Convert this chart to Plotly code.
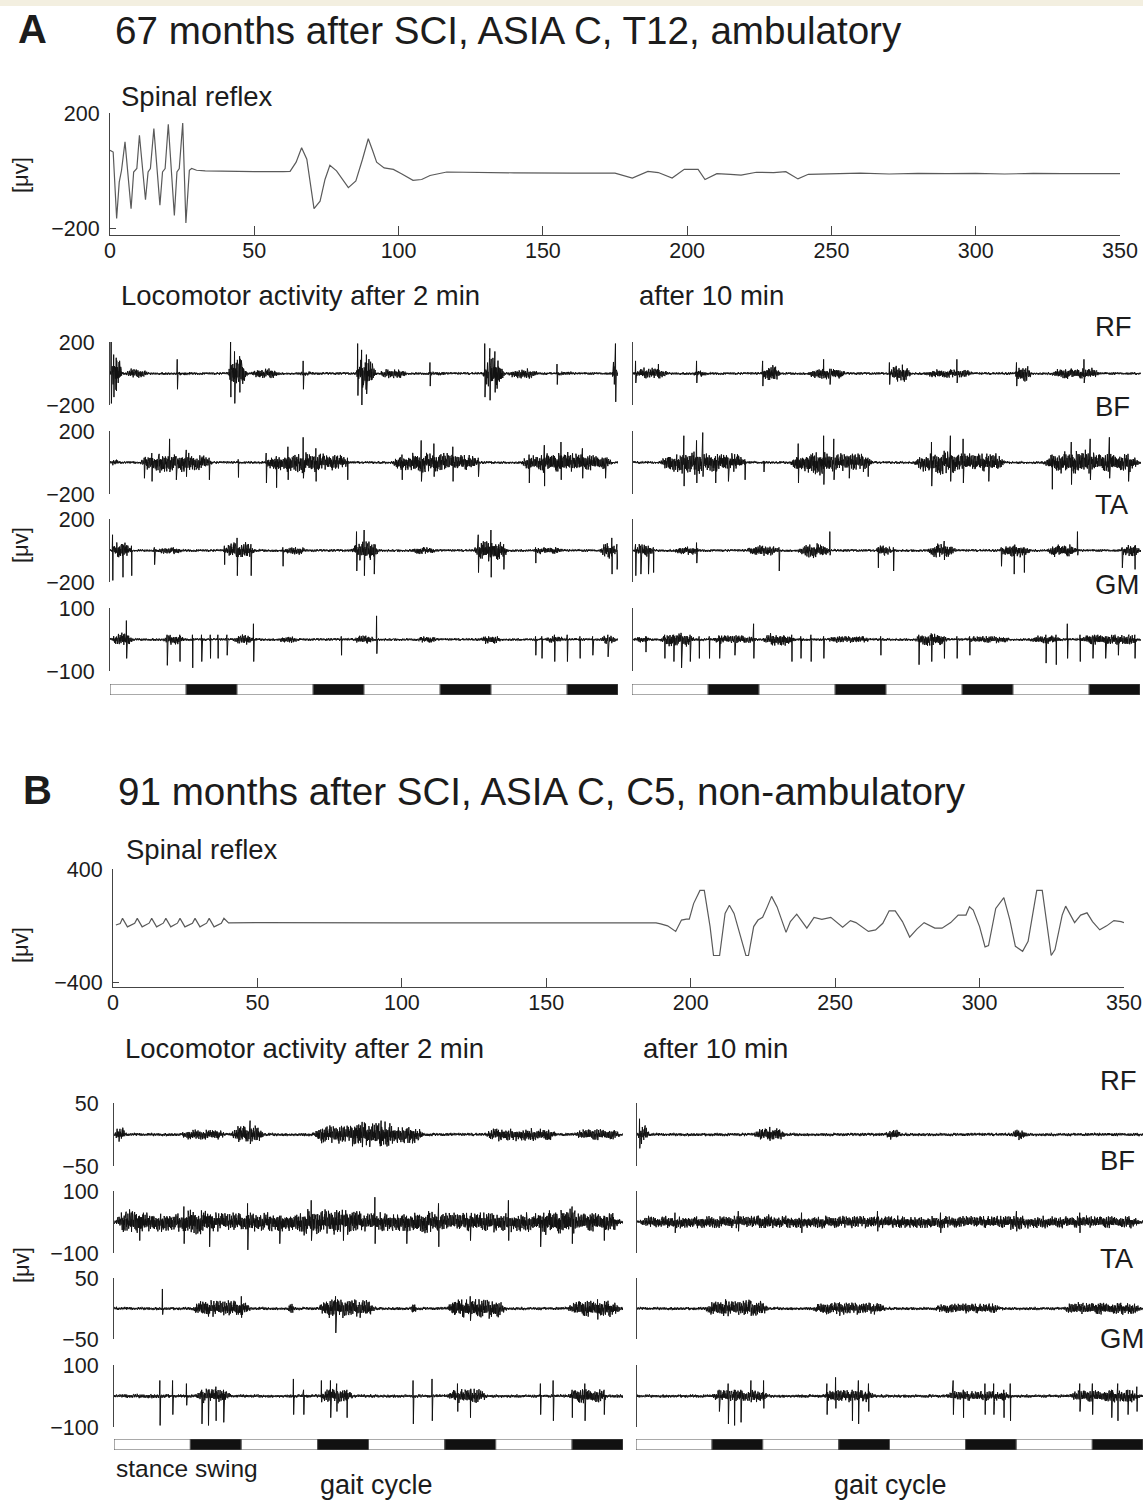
import numpy as np
import plotly.graph_objects as go

W, H = 1143, 1501
FONT = "Liberation Sans, Arial, Helvetica, sans-serif"
INK = "#1c1c1c"
AXIS = "#444444"

# ---------------- spinal reflex recordings (time in ms, amplitude in µV) ----------------
reflex_a_t = [0, 1.1, 2.3, 3.2, 4.0, 5.2, 7.3, 8.2, 9.3, 10.2, 12.3, 13.2, 14.0, 15.2, 17.3, 18.2,
              19.1, 20.2, 22.3, 23.2, 24.0, 25.2, 26.3, 27.5, 28.3, 30, 33, 40, 50, 60, 62.4, 64.5,
              66.4, 68.2, 70.7, 72.8, 74.5, 76.2, 78.5, 82.6, 85.2, 87.5, 89.5, 91, 92.4, 95, 98.2,
              101, 105, 108, 110.9, 116.7, 125, 140, 160, 175, 181, 186.4, 190, 194.8, 199, 203.8,
              206.2, 210.3, 215, 218.7, 224, 230, 234.2, 238.4, 242, 250, 260, 270, 280, 290, 300,
              310, 320, 330, 340, 350]
reflex_a_v = [71, 65, -165, -39, 2, 100, -131, -4, 8, 123, -100, -4, 8, 146, -119, -4,
              8, 161, -154, -4, 8, 165, -180, 2, 8, 2, 0, -2, -3, -3, -2, 30,
              80, 40, -131, -105, -30, 19, 0, -58, -35, 40, 111, 70, 30, 10, 5,
              -10, -33, -30, -16, -4, -6, -7, -8, -8, -25, -2, -6, -25, 5, 5,
              -30, -10, -12, -15, -5, -6, -3, -28, -12, -10, -8, -11, -9, -10, -9,
              -11, -9, -10, -9, -10]

reflex_b_t = [1.0, 2.5, 3.3, 5.0, 7.5, 8.4, 10.1, 12.5, 13.4, 15.1, 17.4, 18.3, 20.0, 22.3, 23.2,
              24.9, 27.5, 28.4, 30.1, 32.4, 33.3, 35.0, 37.5, 38.4, 40, 50, 100, 150, 180, 188,
              189.6, 192, 194.8, 196.8, 198.5, 199.5, 201, 203.2, 204.7, 206.7, 207.9, 210, 211.9,
              213.4, 215, 217.5, 219.1, 220, 221.8, 223.3, 224.9, 226.5, 228, 229.9, 233, 234.5,
              236.7, 238.2, 240.2, 242.7, 245.4, 248.5, 250.4, 252.6, 255.3, 257.2, 261.5, 264,
              266.5, 268.7, 270.8, 273.3, 275.8, 278.3, 280.8, 284.5, 287, 290, 292.6, 295.3,
              296.5, 297.8, 300, 301.9, 303.1, 305.6, 308.4, 310.5, 312.4, 314.9, 316.8, 318.9,
              319.8, 321.7, 323.6, 324.8, 326.1, 328.6, 329.8, 331.3, 332.9, 335, 337.2, 339.1,
              341.6, 344, 346.5, 349, 350]
reflex_b_v = [5, 15, 52, -8, 18, 52, -8, 18, 52, -8, 18, 52, -8, 18, 52,
              -8, 18, 52, -8, 18, 52, -8, 18, 52, 20, 22, 20, 22, 21, 20,
              13, -1, -40, 40, 47, 47, 156, 249, 249, -6, -210, -210, 87,
              145, 87, -98, -210, -210, -6, 40, 59, 133, 207, 133, -47, 29,
              82, 40, -17, 59, 45, 59, 29, -10, 36, 22, -40, -29,
              17, 105, 105, 29, -80, -24, 22, -17, -17, 22, 75, 75,
              133, 110, -6, -149, -140, 122, 198, 40, -145, -180, -110, 133,
              249, 249, -29, -210, -168, 75, 138, 82, 22, 75, 91, 29,
              -29, -1, 36, 29, 22]

# ---------------- gait cycle phases (units of gait cycles) ----------------
gait_phase_start = [0.0, 0.6, 1.0, 1.6, 2.0, 2.6, 3.0, 3.6]
gait_phase_len = [0.6, 0.4, 0.6, 0.4, 0.6, 0.4, 0.6, 0.4]
gait_phase_name = ["stance", "swing"] * 4

# ---------------- EMG activity during stepping ----------------
# bursts: (start, end, amplitude µV); spikes: (position, peak up, peak down)
# positions are in gait cycles (0..4)
A2_RF_bursts = [(0.0, 0.1, 110), (0.1, 0.32, 35), (0.45, 0.7, 12), (0.92, 1.09, 110), (1.09, 1.36, 35),
                (1.45, 1.65, 14), (1.93, 2.1, 115), (2.1, 2.36, 35), (2.45, 2.7, 14),
                (2.93, 3.11, 120), (3.11, 3.4, 35), (3.45, 3.7, 14), (3.95, 4.0, 90)]
A2_RF_spikes = [(0.01, 200, -190), (0.03, 120, -150), (0.05, 100, -110), (0.53, 90, -100),
                (0.95, 200, -150), (0.98, 140, -190), (1.02, 110, -120), (1.52, 80, -100),
                (1.95, 190, -140), (1.98, 150, -200), (2.02, 120, -130), (2.52, 70, -80),
                (2.95, 190, -150), (2.99, 160, -170), (3.03, 140, -120), (3.52, 60, -70),
                (3.98, 190, -180)]
A2_BF_bursts = [(0.0, 0.08, 20), (0.22, 0.82, 55), (0.3, 0.7, 70), (1.2, 1.9, 55), (1.3, 1.75, 70),
                (2.2, 2.93, 55), (2.3, 2.75, 70), (3.22, 3.97, 55), (3.32, 3.8, 70)]
A2_BF_spikes = [(0.27, 30, -100), (0.33, 60, -120), (0.47, 150, -60), (0.52, 40, -110), (0.6, 80, -90),
                (0.78, 30, -110), (1.01, 20, -95), (1.23, 60, -130), (1.31, 40, -160), (1.4, 100, -110),
                (1.52, 160, -100), (1.62, 90, -120), (1.87, 30, -110), (2.3, 50, -110), (2.45, 140, -120),
                (2.55, 120, -90), (2.7, 100, -120), (2.9, 30, -90), (3.3, 50, -130), (3.42, 110, -150),
                (3.55, 130, -110), (3.72, 90, -100), (3.9, 30, -100)]
A2_TA_bursts = [(0.0, 0.18, 55), (0.34, 0.6, 25), (0.88, 1.16, 60), (1.34, 1.57, 28), (1.89, 2.13, 70),
                (2.34, 2.6, 25), (2.85, 3.15, 70), (3.3, 3.6, 25), (3.85, 4.0, 55)]
A2_TA_spikes = [(0.02, 100, -190), (0.1, 40, -170), (0.17, 30, -160), (0.35, 20, -90), (0.9, 30, -90),
                (1.0, 80, -160), (1.11, 40, -160), (1.36, 20, -100), (1.94, 120, -130), (2.0, 130, -160),
                (2.08, 40, -150), (2.9, 100, -140), (3.0, 130, -170), (3.1, 40, -120), (3.35, 20, -80),
                (3.95, 80, -150), (3.99, 40, -120)]
A2_GM_bursts = [(0.0, 0.2, 24), (0.4, 0.6, 18), (0.95, 1.15, 18), (1.3, 1.5, 12), (1.9, 2.1, 15),
                (2.4, 2.6, 12), (2.9, 3.1, 15), (3.4, 3.6, 12), (3.85, 4.0, 15)]
A2_GM_spikes = [(0.13, 60, -60), (0.45, 15, -82), (0.55, 15, -70), (0.65, 15, -90), (0.72, 15, -70),
                (0.79, 15, -60), (0.85, 15, -60), (0.92, 15, -50), (1.13, 50, -70), (1.82, 10, -50),
                (2.1, 75, -45), (3.35, 10, -50), (3.4, 10, -60), (3.5, 15, -70), (3.6, 15, -70),
                (3.7, 10, -60), (3.8, 10, -50), (3.92, 15, -55)]

A10_RF_bursts = [(0.0, 0.3, 40), (0.45, 0.6, 22), (1.0, 1.17, 60), (1.35, 1.7, 38), (2.0, 2.2, 60),
                 (2.28, 2.7, 30), (3.0, 3.15, 60), (3.27, 3.7, 38)]
A10_RF_spikes = [(0.02, 80, -60), (0.2, 60, -30), (0.5, 80, -60), (1.02, 80, -80), (1.5, 90, -30),
                 (1.55, 30, -70), (2.02, 70, -70), (2.55, 90, -60), (3.02, 70, -80), (3.55, 90, -60)]
A10_BF_bursts = [(0.2, 0.9, 65), (0.3, 0.6, 85), (1.22, 1.9, 65), (1.3, 1.6, 85), (2.2, 2.94, 65),
                 (2.3, 2.6, 85), (3.22, 4.0, 65), (3.3, 3.7, 85)]
A10_BF_spikes = [(0.4, 170, -150), (0.5, 140, -130), (0.55, 190, -90), (0.65, 40, -130), (0.75, 30, -120),
                 (0.88, 20, -110), (1.03, 10, -60), (1.3, 120, -130), (1.5, 170, -140), (1.58, 150, -110),
                 (1.7, 40, -100), (1.85, 30, -90), (2.35, 130, -150), (2.5, 170, -120), (2.6, 150, -130),
                 (2.8, 40, -120), (3.3, 50, -170), (3.45, 130, -140), (3.6, 150, -110), (3.75, 160, -100),
                 (3.9, 30, -120)]
A10_TA_bursts = [(0.0, 0.18, 50), (0.3, 0.55, 30), (0.87, 1.17, 38), (1.28, 1.57, 50), (1.9, 2.05, 38),
                 (2.3, 2.56, 50), (2.87, 3.15, 45), (3.24, 3.52, 45), (3.83, 4.0, 45)]
A10_TA_spikes = [(0.02, 40, -160), (0.06, 30, -150), (0.12, 30, -150), (0.16, 20, -140), (0.5, 50, -80),
                 (1.15, 20, -130), (1.55, 120, -30), (1.93, 20, -110), (2.05, 20, -130), (2.45, 60, -60),
                 (2.9, 20, -100), (3.0, 30, -150), (3.08, 20, -140), (3.5, 120, -30), (3.85, 20, -110),
                 (3.95, 30, -120)]
A10_GM_bursts = [(0.0, 0.15, 12), (0.2, 0.5, 26), (0.6, 1.0, 15), (1.0, 1.3, 22), (1.5, 1.9, 12),
                 (2.2, 2.5, 22), (2.6, 3.0, 12), (3.1, 3.4, 15), (3.5, 4.0, 18)]
A10_GM_spikes = [(0.1, 10, -40), (0.25, 15, -60), (0.32, 15, -70), (0.38, 15, -90), (0.45, 15, -70),
                 (0.52, 10, -60), (0.6, 10, -60), (0.68, 10, -60), (0.8, 10, -50), (0.95, 50, -60),
                 (1.25, 15, -70), (1.32, 10, -60), (1.4, 15, -70), (1.5, 10, -60), (1.95, 10, -50),
                 (2.25, 15, -80), (2.35, 15, -70), (2.45, 10, -60), (2.55, 10, -60), (2.65, 10, -50),
                 (3.25, 15, -75), (3.33, 15, -80), (3.42, 50, -60), (3.52, 15, -70), (3.62, 10, -60),
                 (3.72, 10, -60), (3.82, 10, -50), (3.95, 15, -60)]

B2_RF_bursts = [(0.0, 0.1, 12), (0.5, 0.9, 9), (0.9, 1.2, 16), (1.55, 2.45, 16), (1.8, 2.25, 22),
                (2.9, 3.5, 11), (3.6, 4.0, 10)]
B2_RF_spikes = [(1.07, 22, -15), (1.95, 20, -20), (2.1, 22, -18)]
B2_BF_bursts = [(0.0, 4.0, 34), (0.0, 0.3, 45), (0.5, 0.8, 45), (1.4, 2.0, 45), (2.3, 2.6, 40),
                (3.3, 3.7, 45)]
B2_BF_spikes = [(0.2, 20, -60), (0.55, 50, -70), (0.75, 20, -80), (1.05, 60, -90), (1.3, 20, -70),
                (1.55, 70, -60), (1.8, 20, -60), (2.05, 80, -70), (2.3, 20, -70), (2.55, 60, -80),
                (2.8, 20, -60), (3.1, 70, -60), (3.35, 20, -80), (3.6, 50, -70), (3.85, 20, -60)]
B2_TA_bursts = [(0.6, 1.09, 15), (1.36, 1.42, 11), (1.59, 2.07, 17), (2.33, 2.38, 11), (2.6, 3.1, 17),
                (3.55, 4.0, 15)]
B2_TA_spikes = [(0.38, 32, -10), (1.0, 20, -15), (1.74, 20, -40), (2.8, 20, -20), (3.8, 15, -18)]
B2_GM_bursts = [(0.0, 0.5, 8), (0.62, 0.94, 26), (1.6, 1.9, 26), (2.6, 2.95, 26), (3.55, 3.9, 26)]
B2_GM_spikes = [(0.36, 50, -95), (0.46, 50, -60), (0.57, 40, -30), (0.69, 20, -90), (0.74, 20, -95),
                (0.8, 30, -80), (0.86, 20, -85), (1.41, 55, -60), (1.49, 20, -60), (1.63, 50, -20),
                (1.7, 50, -70), (1.75, 40, -50), (1.83, 20, -70), (2.35, 50, -90), (2.5, 55, -80),
                (2.7, 40, -50), (2.8, 20, -70), (3.35, 40, -60), (3.45, 50, -80), (3.6, 20, -70),
                (3.7, 40, -80), (3.85, 20, -60)]

B10_RF_bursts = [(0.0, 0.1, 16), (0.9, 1.2, 11), (1.95, 2.1, 9), (2.95, 3.1, 9)]
B10_RF_spikes = [(0.02, 25, -22), (1.05, 12, -10)]
B10_BF_bursts = [(0.0, 4.0, 22), (0.9, 1.1, 28), (2.9, 3.1, 28)]
B10_BF_spikes = [(0.3, 30, -35), (0.8, 35, -30), (1.3, 30, -35), (1.9, 35, -30), (2.4, 30, -35),
                 (3.0, 35, -30), (3.5, 30, -35)]
B10_TA_bursts = [(0.52, 1.06, 14), (0.8, 1.0, 17), (1.37, 1.99, 11), (2.33, 2.9, 9), (3.35, 4.0, 11)]
B10_TA_spikes = [(0.7, 15, -8), (0.9, 12, -12), (1.6, 10, -12), (2.6, 8, -8)]
B10_GM_bursts = [(0.0, 0.5, 6), (0.57, 1.06, 22), (1.45, 1.9, 22), (2.42, 2.98, 18), (3.4, 4.0, 22)]
B10_GM_spikes = [(0.65, 20, -50), (0.72, 40, -90), (0.77, 20, -95), (0.82, 20, -85), (0.9, 50, -20),
                 (1.0, 50, -40), (1.5, 40, -60), (1.57, 60, -40), (1.7, 20, -80), (1.75, 50, -90),
                 (1.83, 40, -50), (2.5, 50, -60), (2.58, 20, -70), (2.75, 40, -60), (2.82, 40, -60),
                 (2.9, 20, -70), (2.95, 40, -80), (3.5, 40, -50), (3.6, 40, -60), (3.75, 20, -70),
                 (3.8, 40, -80), (3.88, 20, -60), (3.95, 30, -50)]

# Hand-set oscillation texture of the surface EMG (sign and relative size per sample)
emg_wave = [0.62, -0.35, 0.88, -0.71, 0.24, -0.93, 0.47, -0.18, 0.79, -0.56, 0.33, -0.84, 0.12,
            -0.66, 0.95, -0.29, 0.51, -0.77, 0.38, -0.45, 0.69, -0.98, 0.21, -0.58, 0.83, -0.31,
            0.44, -0.72, 0.16, -0.89, 0.57, -0.26, 0.74, -0.49, 0.92, -0.37, 0.28, -0.63, 0.81,
            -0.19, 0.53, -0.86, 0.41, -0.68, 0.14, -0.54, 0.97, -0.43, 0.31, -0.79, 0.66, -0.23,
            0.49, -0.91, 0.36, -0.61, 0.76, -0.39, 0.22, -0.82, 0.59]
emg_gain = [1.0, 0.55, 0.9, 0.4, 0.95, 0.7, 0.85, 0.35, 0.9, 0.6, 0.5, 0.92, 0.75, 0.42, 0.98,
            0.58, 0.84, 0.47, 0.94, 0.66, 0.52, 0.96, 0.76, 0.44, 0.9, 0.57, 0.83, 0.39, 0.95,
            0.61, 0.88, 0.43, 0.93, 0.54, 0.98, 0.72, 0.86, 0.46, 0.92, 0.59, 0.87, 0.5, 0.94,
            0.36, 0.89, 0.48, 0.97]

N_SAMPLES = 1800
WAVE = np.array(emg_wave)
GAIN = np.array(emg_gain)


def emg_signal(bursts, spikes, floor, offset):
    t = np.linspace(0.0, 4.0, N_SAMPLES)
    env = np.full(N_SAMPLES, float(floor))
    for a, b, amp in bursts:
        ramp = max(0.015, min(0.08, (b - a) * 0.3))
        w = np.clip(np.minimum(t - a, b - t) / ramp, 0, 1)
        env = np.maximum(env, amp * w)
    idx = np.arange(N_SAMPLES) + offset
    y = env * WAVE[idx % len(WAVE)] * GAIN[idx % len(GAIN)]
    for p, up, down in spikes:
        k = int(round(p / 4.0 * (N_SAMPLES - 1)))
        k = min(max(k, 0), N_SAMPLES - 2)
        y[k] = up
        y[k + 1] = down
    return t, y


fig = go.Figure()
layout = dict(
    width=W, height=H, margin=dict(l=0, r=0, t=0, b=0, autoexpand=False),
    paper_bgcolor="white", plot_bgcolor="rgba(0,0,0,0)", showlegend=False,
    font=dict(family=FONT, size=21, color=INK),
)
_n_axes = [0]


def fx(px):
    return max(0.0, min(1.0, px / W))


def fy(py):
    return max(0.0, min(1.0, 1 - py / H))


def add_axes(xpx, ypx, xopts, yopts):
    _n_axes[0] += 1
    k = _n_axes[0]
    s = "" if k == 1 else str(k)
    base = dict(showgrid=False, zeroline=False, fixedrange=True, automargin=False)
    layout["xaxis" + s] = dict(domain=[fx(xpx[0]), fx(xpx[1])], anchor="y" + s, **base, **xopts)
    layout["yaxis" + s] = dict(domain=[fy(ypx[1]), fy(ypx[0])], anchor="x" + s, **base, **yopts)
    return "x" + s, "y" + s


def reflex_panel(t, v, xpx, ypx, yr, ytick):
    xa, ya = add_axes(
        xpx, ypx,
        dict(range=[0, 350], showline=True, linecolor=AXIS, linewidth=1, ticks="inside", ticklen=9,
             tickcolor=AXIS, tickvals=list(range(0, 351, 50)), tickfont=dict(size=21.5),
             ticklabelstandoff=-4, ticklabeloverflow="allow"),
        dict(range=yr, showline=True, linecolor=AXIS, linewidth=1, ticks="inside", ticklen=6,
             tickcolor=AXIS, tickvals=[ytick, -ytick], ticktext=[str(ytick), "\u2212" + str(ytick)],
             tickfont=dict(size=21.5), ticklabelstandoff=5, ticklabeloverflow="allow"),
    )
    fig.add_trace(go.Scatter(x=t, y=v, mode="lines", line=dict(color="#5a5a5a", width=1.2),
                             xaxis=xa, yaxis=ya, hoverinfo="skip"))


def emg_panel(bursts, spikes, floor, offset, xpx, ypx, lim, labels):
    t, y = emg_signal(bursts, spikes, floor, offset)
    yopts = dict(range=[-lim, lim], showline=True, linecolor=AXIS, linewidth=1, ticks="inside",
                 ticklen=6, tickcolor=AXIS, tickvals=[lim, -lim])
    if labels:
        yopts.update(ticktext=[str(lim), "\u2212" + str(lim)], tickfont=dict(size=21.5), ticklabelstandoff=10,
                     ticklabeloverflow="allow")
    else:
        yopts.update(showticklabels=False)
    xa, ya = add_axes(xpx, ypx, dict(range=[0, 4], visible=False), yopts)
    fig.add_trace(go.Scatter(x=t, y=y, mode="lines", line=dict(color="#111111", width=1.0),
                             xaxis=xa, yaxis=ya, hoverinfo="skip"))


def gait_bar(xpx, ypx):
    xa, ya = add_axes(xpx, ypx, dict(range=[0, 4], visible=False), dict(range=[0, 1], visible=False))
    colors = ["white" if p == "stance" else "#111111" for p in gait_phase_name]
    fig.add_trace(go.Bar(x=gait_phase_len, base=gait_phase_start, y=[0.5] * len(gait_phase_len),
                         orientation="h", width=1.0, marker=dict(color=colors, line=dict(color="#555555", width=1)),
                         xaxis=xa, yaxis=ya, hoverinfo="skip"))


# ---------- Panel A ----------
reflex_panel(reflex_a_t, reflex_a_v, (110, 1120), (113, 235), [-222, 200], 200)
rows_a = [(342, 405), (431, 494), (519, 582), (608, 671)]
lims_a = [200, 200, 200, 100]
left_a = [(A2_RF_bursts, A2_RF_spikes), (A2_BF_bursts, A2_BF_spikes), (A2_TA_bursts, A2_TA_spikes),
          (A2_GM_bursts, A2_GM_spikes)]
right_a = [(A10_RF_bursts, A10_RF_spikes), (A10_BF_bursts, A10_BF_spikes), (A10_TA_bursts, A10_TA_spikes),
           (A10_GM_bursts, A10_GM_spikes)]
for i, (row, lim) in enumerate(zip(rows_a, lims_a)):
    emg_panel(*left_a[i], lim * 0.05, 11 * i, (110, 618), row, lim, True)
    emg_panel(*right_a[i], lim * 0.05, 23 * i + 7, (633, 1141), row, lim, False)
gait_bar((110, 618), (684, 695))
gait_bar((632, 1140), (684, 695))

# ---------- Panel B ----------
reflex_panel(reflex_b_t, reflex_b_v, (113, 1124), (869, 987), [-432, 400], 400)
rows_b = [(1103, 1166), (1191, 1253), (1278, 1339), (1365, 1427)]
lims_b = [50, 100, 50, 100]
left_b = [(B2_RF_bursts, B2_RF_spikes), (B2_BF_bursts, B2_BF_spikes), (B2_TA_bursts, B2_TA_spikes),
          (B2_GM_bursts, B2_GM_spikes)]
right_b = [(B10_RF_bursts, B10_RF_spikes), (B10_BF_bursts, B10_BF_spikes), (B10_TA_bursts, B10_TA_spikes),
           (B10_GM_bursts, B10_GM_spikes)]
for i, (row, lim) in enumerate(zip(rows_b, lims_b)):
    emg_panel(*left_b[i], lim * 0.06, 17 * i + 3, (114, 623), row, lim, True)
    emg_panel(*right_b[i], lim * 0.06, 29 * i + 5, (637, 1143), row, lim, False)
gait_bar((114, 623), (1439, 1450))
gait_bar((636, 1143), (1439, 1450))

# ---------- text ----------
annotations = []


def label(text, x, y, size, xanchor="left", angle=0, bold=False):
    annotations.append(dict(
        text=("<b>%s</b>" % text) if bold else text, x=fx(x), y=fy(y), xref="paper", yref="paper",
        xanchor=xanchor, yanchor="middle", showarrow=False, textangle=angle,
        font=dict(family=FONT, size=size, color=INK)))


label("A", 16, 29, 40, bold=True)
label("67 months after SCI, ASIA C, T12, ambulatory", 113, 31, 38.6)
label("Spinal reflex", 119, 97, 27.5)
label("[\u03bcv]", 21, 175, 22, xanchor="center", angle=-90)
label("Locomotor activity after 2 min", 119, 295, 27.5)
label("after 10 min", 637, 295, 27.5)
label("[\u03bcv]", 21, 545, 22, xanchor="center", angle=-90)
for name, yy in zip(["RF", "BF", "TA", "GM"], [326, 406, 505, 585]):
    label(name, 1093, yy, 27.5)

label("B", 21, 790, 40, bold=True)
label("91 months after SCI, ASIA C, C5, non-ambulatory", 116, 791, 38.6)
label("Spinal reflex", 124, 850, 27.5)
label("[\u03bcv]", 21, 945, 22, xanchor="center", angle=-90)
label("Locomotor activity after 2 min", 123, 1048, 27.5)
label("after 10 min", 641, 1048, 27.5)
label("[\u03bcv]", 21, 1265, 22, xanchor="center", angle=-90)
for name, yy in zip(["RF", "BF", "TA", "GM"], [1080, 1160, 1258, 1338]):
    label(name, 1098, yy, 27.5)
label("stance swing", 114, 1468, 24.5)
label("gait cycle", 376, 1485, 27, xanchor="center")
label("gait cycle", 891, 1485, 27, xanchor="center")

layout["annotations"] = annotations
layout["shapes"] = [dict(type="rect", xref="paper", yref="paper", x0=0, x1=1, y0=1 - 6 / H, y1=1,
                         fillcolor="#f3efe0", line=dict(width=0), layer="below")]
fig.update_layout(**layout)
fig.write_html("out.html")
